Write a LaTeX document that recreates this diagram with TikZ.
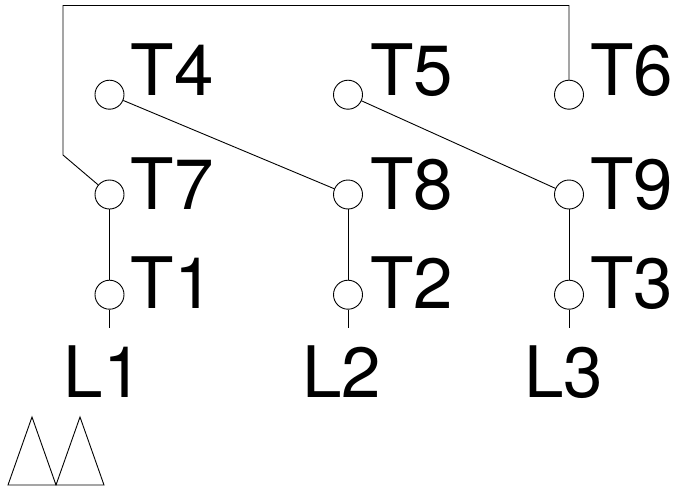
\documentclass[tikz,border=0pt]{standalone}
\usepackage{fontspec}
\setmainfont{TeX Gyre Heros}
\begin{document}
\begin{tikzpicture}[x=1pt,y=-1pt,
  term/.style={circle,draw=black,fill=white,line width=0.9pt,minimum size=29pt,inner sep=0pt},
  wire/.style={draw=black,line width=0.9pt},
  lab/.style={font=\fontsize{71}{71}\selectfont,inner sep=0pt,anchor=base west}]
\useasboundingbox (0,0) rectangle (676,487);
\coordinate (ttop1) at (63,5.5);
\coordinate (ttop2) at (569,5.5);
\coordinate (bend) at (63,155);
\coordinate (e1) at (109.5,328);
\coordinate (e2) at (348,328);
\coordinate (e3) at (569,328);
\node[term] (t4) at (109.5,94.7) {};
\node[term] (t5) at (348,94.7) {};
\node[term] (t6) at (569,94.7) {};
\node[term] (t7) at (109.5,194.5) {};
\node[term] (t8) at (348,194.5) {};
\node[term] (t9) at (569,194.5) {};
\node[term] (t1) at (109.5,294.7) {};
\node[term] (t2) at (348,294.7) {};
\node[term] (t3) at (569,294.7) {};
\draw[wire] (t7) -- (bend) -- (ttop1) -- (ttop2) -- (t6);
\draw[wire] (t4) -- (t8);
\draw[wire] (t5) -- (t9);
\draw[wire] (t7) -- (t1);
\draw[wire] (t8) -- (t2);
\draw[wire] (t9) -- (t3);
\draw[wire] (t1) -- (e1);
\draw[wire] (t2) -- (e2);
\draw[wire] (t3) -- (e3);
\node[lab] (l4) at (130.5,95) {T4};
\node[lab] (l5) at (370,95) {T5};
\node[lab] (l6) at (590,95) {T6};
\node[lab] (l7) at (130.5,209) {T7};
\node[lab] (l8) at (370,209) {T8};
\node[lab] (l9) at (590,209) {T9};
\node[lab] (l1) at (130.5,308) {T1};
\node[lab] (l2) at (370,308) {T2};
\node[lab] (l3) at (590,308) {T3};
\node[lab] (ll1) at (63.5,397) {L1};
\node[lab] (ll2) at (302,397) {L2};
\node[lab] (ll3) at (524,397) {L3};
\draw[wire] (8,485) -- (32,417) -- (56,485) -- cycle;
\draw[wire] (56,485) -- (80,417) -- (104,485) -- cycle;
\end{tikzpicture}
\end{document}
